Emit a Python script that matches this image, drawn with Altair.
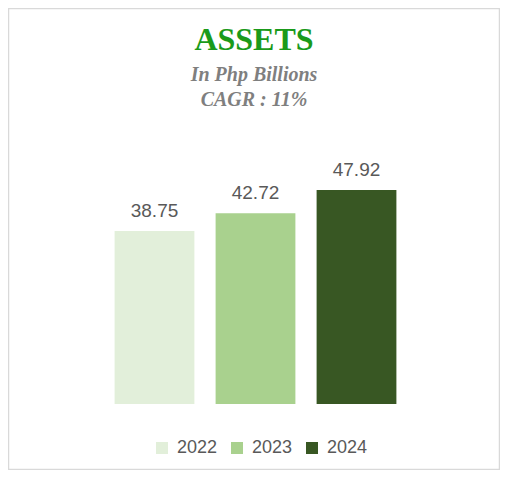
import altair as alt
import pandas as pd

years = ["2022", "2023", "2024"]
values = [38.75, 42.72, 47.92]
colors = ["#e2efda", "#a9d18e", "#385723"]
title_text = "ASSETS"
subtitle_lines = ["In Php Billions", "CAGR : 11%"]

df = pd.DataFrame({"year": years, "value": values})
one = pd.DataFrame({"a": [0]})

x = alt.X("year:N", axis=None,
          scale=alt.Scale(paddingInner=0.21, paddingOuter=0.105))
y = alt.Y("value:Q", axis=None, scale=alt.Scale(domain=[0, 60], nice=False))

bars = alt.Chart(df).mark_bar().encode(
    x=x, y=y,
    color=alt.Color("year:N",
                    scale=alt.Scale(domain=years, range=colors),
                    legend=alt.Legend(orient="none", legendX=49, legendY=303,
                                      direction="horizontal", title=None,
                                      symbolType="square", symbolSize=144,
                                      symbolStrokeWidth=0, labelFontSize=18,
                                      labelColor="#595959", labelFont="Liberation Sans",
                                      columnPadding=10, labelOffset=6, padding=0)),
)

labels = alt.Chart(df).mark_text(
    dy=-20, fontSize=19, color="#595959", font="Liberation Sans", baseline="middle"
).encode(x=x, y=y, text=alt.Text("value:Q", format=".2f"))

border = alt.Chart(one).mark_rect(
    fill=None, stroke="#d9d9d9", strokeWidth=1.5
).encode(x=alt.value(-95.5), x2=alt.value(395.5), y=alt.value(-127.5), y2=alt.value(333.5))

t1 = alt.Chart(one).mark_text(
    font="Liberation Serif", fontSize=32, fontWeight="bold", color="#1a9a1a",
    baseline="alphabetic", align="center"
).encode(x=alt.value(150), y=alt.value(-86), text=alt.value(title_text))

t2 = alt.Chart(one).mark_text(
    font="Liberation Serif", fontSize=20, fontWeight="bold", fontStyle="italic",
    color="#7f7f7f", baseline="alphabetic", align="center"
).encode(x=alt.value(150), y=alt.value(-55), text=alt.value(subtitle_lines[0]))

t3 = alt.Chart(one).mark_text(
    font="Liberation Serif", fontSize=20, fontWeight="bold", fontStyle="italic",
    color="#7f7f7f", baseline="alphabetic", align="center"
).encode(x=alt.value(150), y=alt.value(-30), text=alt.value(subtitle_lines[1]))

chart = alt.layer(border, bars, labels, t1, t2, t3).properties(
    width=303, height=268,
    autosize=alt.AutoSizeParams(type="none"),
    padding={"left": 96, "top": 128, "right": 93, "bottom": 66},
).configure_view(stroke=None)

chart.save("out.html", embed_options={"renderer": "svg", "actions": False})
